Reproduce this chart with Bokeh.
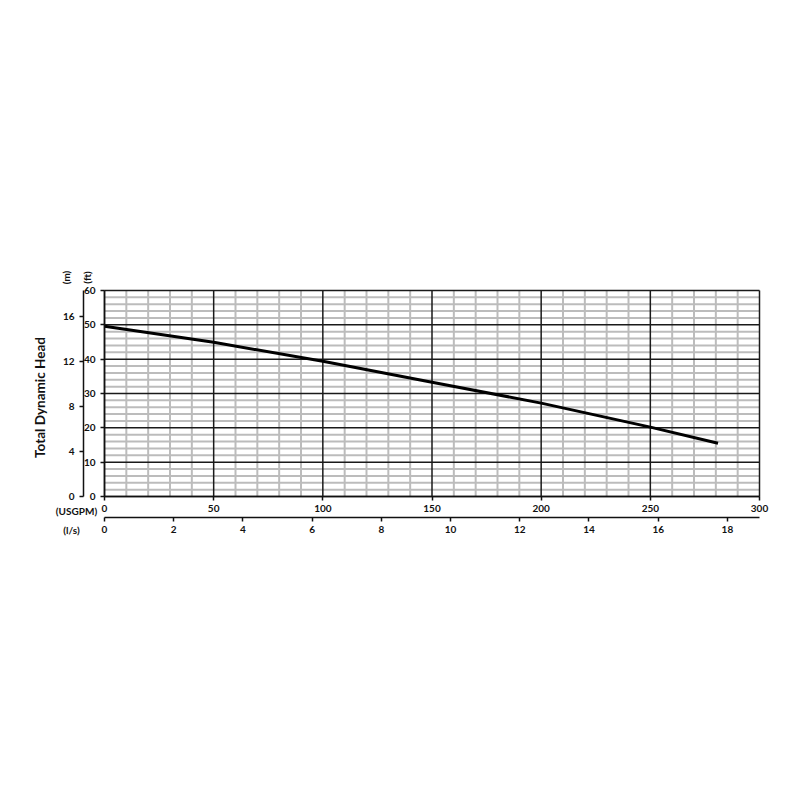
import math
from bokeh.plotting import figure
from bokeh.models import Range1d, LinearAxis, FixedTicker, Label
from bokeh.embed import file_html
from bokeh.resources import INLINE

# ---- data ----
flow_usgpm = [0, 50, 100, 150, 200, 250, 281]
head_ft = [49.6, 44.9, 39.4, 33.3, 27.2, 20.2, 15.5]

usgpm_ticks = [0, 50, 100, 150, 200, 250, 300]
ls_ticks = [0, 2, 4, 6, 8, 10, 12, 14, 16, 18]
ft_ticks = [0, 10, 20, 30, 40, 50, 60]
m_ticks = [0, 4, 8, 12, 16]
usgpm_minor = [v for v in range(0, 301, 10) if v % 50 != 0]
ft_minor = [v for v in range(0, 61, 2) if v % 10 != 0]

GPM_TO_LS = 0.0630902
FT_TO_M = 0.3048
X_MAX = 300
Y_MAX = 60

FONT = "Lato"

# ---- layout (canvas pixels) ----
W, H = 784, 560
TOP = 250                      # frame top; the frame covers the rest
X0_PX, X1_PX = 104, 759        # where 0 and 300 USGPM sit
Y0_PX, Y1_PX = 496, 290        # where 0 and 60 ft sit
PX_X = (X1_PX - X0_PX) / X_MAX
PX_Y = (Y0_PX - Y1_PX) / Y_MAX

x_lo, x_hi = (0 - X0_PX) / PX_X, (W - X0_PX) / PX_X
y_lo, y_hi = (Y0_PX - H) / PX_Y, (Y0_PX - TOP) / PX_Y

p = figure(width=W, height=H, output_backend="svg", toolbar_location=None,
           x_range=Range1d(x_lo, x_hi), y_range=Range1d(y_lo, y_hi),
           min_border_left=0, min_border_right=0, min_border_bottom=0,
           min_border_top=TOP)
p.xgrid.visible = False
p.ygrid.visible = False
p.outline_line_color = None
p.background_fill_color = "white"
p.border_fill_color = "white"

p.extra_x_ranges = {"ls": Range1d(x_lo * GPM_TO_LS, x_hi * GPM_TO_LS)}
p.extra_y_ranges = {"m": Range1d(y_lo * FT_TO_M, y_hi * FT_TO_M)}


def px_to_data(px, py):
    return (px - X0_PX) / PX_X, (Y0_PX - py) / PX_Y


def style_axis(ax, ticks, bounds, loc):
    ax.ticker = FixedTicker(ticks=ticks)
    ax.bounds = bounds
    ax.fixed_location = loc
    ax.minor_tick_line_color = None
    ax.major_tick_in = 0
    ax.major_tick_out = 4
    ax.major_tick_line_color = "#111111"
    ax.major_tick_line_width = 1.5
    ax.axis_line_color = "#111111"
    ax.axis_line_width = 1.5
    ax.major_label_text_font = FONT
    ax.major_label_text_font_style = "bold"
    ax.major_label_text_font_size = "10px"
    ax.major_label_text_color = "#111111"
    ax.major_label_standoff = 5


# grid (minor gray first, then major black forming the box)
GRAY, DARK = "#bcbcbc", "#1a1a1a"
p.segment(x0=usgpm_minor, x1=usgpm_minor, y0=[0] * len(usgpm_minor),
          y1=[Y_MAX] * len(usgpm_minor), line_color=GRAY, line_width=2)
p.segment(x0=[0] * len(ft_minor), x1=[X_MAX] * len(ft_minor),
          y0=ft_minor, y1=ft_minor, line_color=GRAY, line_width=2)
p.segment(x0=usgpm_ticks, x1=usgpm_ticks, y0=[0] * len(usgpm_ticks),
          y1=[Y_MAX] * len(usgpm_ticks), line_color=DARK, line_width=1.5)
p.segment(x0=[0] * len(ft_ticks), x1=[X_MAX] * len(ft_ticks),
          y0=ft_ticks, y1=ft_ticks, line_color=DARK, line_width=1.5)

# curve
p.line(flow_usgpm, head_ft, line_color="#000000", line_width=3)

# axes
style_axis(p.xaxis[0], usgpm_ticks, (0, X_MAX), 0)
p.xaxis[0].major_label_standoff = 4
style_axis(p.yaxis[0], ft_ticks, (0, Y_MAX), 0)

ax_ls = LinearAxis(x_range_name="ls")
style_axis(ax_ls, ls_ticks, (0, X_MAX * GPM_TO_LS), px_to_data(0, 517)[1])
ax_ls.major_label_standoff = 4
p.add_layout(ax_ls, "below")

ax_m = LinearAxis(y_range_name="m")
style_axis(ax_m, m_ticks, (0, Y_MAX * FT_TO_M), px_to_data(83, 0)[0])
p.add_layout(ax_m, "left")


# texts
def add_label(text, px, py, angle=0.0, size="10px"):
    x, y = px_to_data(px, py)
    p.add_layout(Label(x=x, y=y, text=text, angle=angle,
                       text_font=FONT, text_font_style="bold",
                       text_font_size=size, text_color="#111111",
                       text_align="center", text_baseline="middle"))


add_label("Total Dynamic Head", 39, 397, angle=math.pi / 2, size="13.5px")
add_label("(m)", 65, 277, angle=math.pi / 2)
add_label("(ft)", 86, 277, angle=math.pi / 2)
add_label("(USGPM)", 76, 510)
add_label("(l/s)", 71, 529)

open("out.html", "w").write(file_html(p, INLINE))
